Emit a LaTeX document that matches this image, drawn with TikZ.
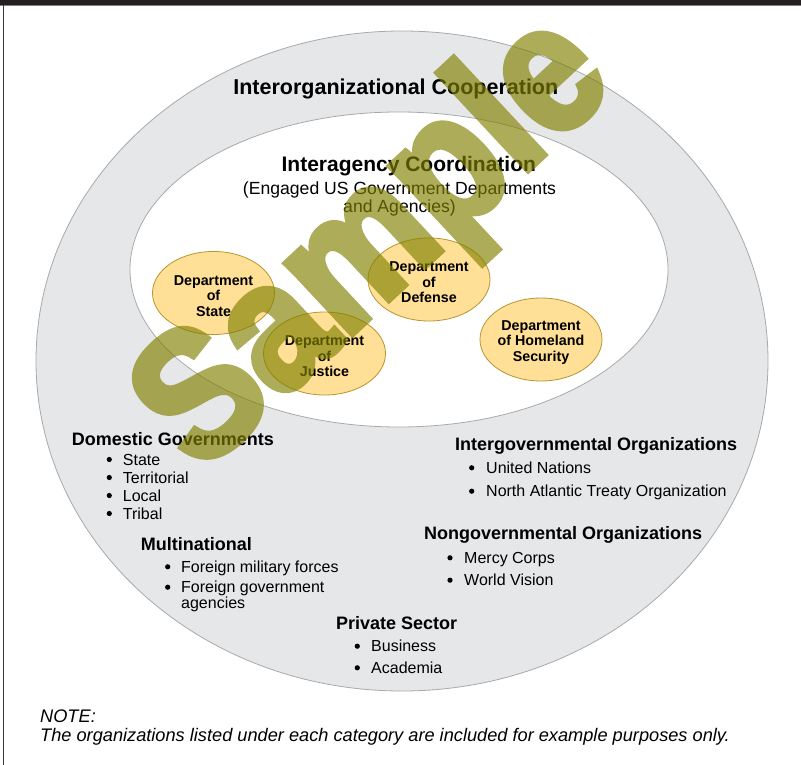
\documentclass[tikz,border=0pt]{standalone}
\usepackage{fontspec}
\setmainfont{Liberation Sans}
\newfontfamily\stampfont[FakeBold=4]{Liberation Sans Bold}
\usetikzlibrary{shapes.geometric}

\definecolor{framebar}{HTML}{231F20}
\definecolor{frameline}{HTML}{3A3A3A}
\definecolor{ringgrey}{HTML}{E6E7E8}
\definecolor{ringline}{HTML}{A7A9AC}
\definecolor{deptfill}{HTML}{FFE096}
\definecolor{deptline}{HTML}{B8952F}
\definecolor{stamp}{RGB}{128,128,0}

\tikzset{
  ring/.style={ellipse, draw=ringline, line width=0.8, inner sep=0},
  title/.style={font=\bfseries\fontsize{21.5}{24}\selectfont, anchor=base, inner sep=0},
  subtitle/.style={font=\fontsize{17.6}{19}\selectfont, anchor=base, inner sep=0},
  dept/.style={ellipse, draw=deptline, line width=0.8, fill=deptfill,
    minimum width=122, minimum height=83, inner sep=0},
  deptlabel/.style={align=center, inner sep=0, yshift=-3pt,
    font=\bfseries\fontsize{14.3}{15.5}\selectfont},
  head/.style={font=\bfseries\fontsize{18}{20}\selectfont, anchor=base west, inner sep=0},
  item/.style={font=\fontsize{16}{18}\selectfont, anchor=base west, inner sep=0},
  dot/.style={circle, fill=black, inner sep=0, minimum size=5.2},
  note/.style={font=\itshape\fontsize{18.2}{20}\selectfont, anchor=base west, inner sep=0},
  stamptext/.style={font=\stampfont\fontsize{182}{182}\selectfont, text=stamp,
    rotate=43, xscale=0.88, inner sep=0},
}

\begin{document}
\begin{tikzpicture}[x=1pt,y=-1pt]
\useasboundingbox (0,0) rectangle (801,765);
\fill[white] (0,0) rectangle (801,765);

% page frame
\fill[framebar] (0,0) rectangle (801,5);
\draw[gray, line width=0.8] (0,5.6) -- (801,5.6);
\draw[frameline, line width=1.3] (3.5,5) -- (3.5,765);

% nested rings
\node[ring, fill=ringgrey, minimum width=732, minimum height=660] (outer) at (402,361) {};
\node[ring, fill=white, minimum width=538, minimum height=315] (inner) at (399,269.5) {};

\node[title] (coop) at (395.8,95) {Interorganizational Cooperation};
\node[title, font=\bfseries\fontsize{21}{24}\selectfont] (coord) at (408.8,171.7) {Interagency Coordination};
\node[subtitle] (engaged1) at (399.5,195) {(Engaged US Government Departments};
\node[subtitle] (engaged2) at (399.5,212.7) {and Agencies)};

% departments
\node[dept] (state) at (213.5,293) {};
\node[dept] (justice) at (324.5,353.5) {};
\node[dept] (defense) at (429,279.5) {};
\node[dept] (homeland) at (541,339.5) {};
\node[deptlabel] (statetext) at (state.center) {Department\\of\\State};
\node[deptlabel] (justicetext) at (justice.center) {Department\\of\\Justice};
\node[deptlabel] (defensetext) at (defense.center) {Department\\of\\Defense};
\node[deptlabel] (homelandtext) at (homeland.center) {Department\\of Homeland\\Security};

% domestic governments
\node[head] (domestic) at (71.7,445) {Domestic Governments};
\node[dot] (d1) at (109.3,459.5) {};   \node[item] (state1) at (122.7,465) {State};
\node[dot] (d2) at (109.3,477.5) {};   \node[item] (terr) at (122.7,483) {Territorial};
\node[dot] (d3) at (109.3,495.5) {};   \node[item] (local) at (122.7,501) {Local};
\node[dot] (d4) at (109.3,513.5) {};   \node[item] (tribal) at (122.7,519) {Tribal};

% multinational
\node[head] (multi) at (140.7,550) {Multinational};
\node[dot] (m1) at (167.7,566.8) {};  \node[item] (forces) at (181,572.3) {Foreign military forces};
\node[dot] (m2) at (167.7,587.2) {};  \node[item] (fgov) at (181,592.7) {Foreign government};
\node[item] (fgov2) at (181,608.7) {agencies};

% intergovernmental
\node[head] (igo) at (455,450.7) {Intergovernmental Organizations};
\node[dot] (i1) at (471.7,467.8) {};  \node[item] (un) at (486,473.3) {United Nations};
\node[dot] (i2) at (471.7,491.2) {};  \node[item] (nato) at (486,496.7) {North Atlantic Treaty Organization};

% nongovernmental
\node[head] (ngo) at (424,539.3) {Nongovernmental Organizations};
\node[dot] (n1) at (450,557.8) {};  \node[item] (mercy) at (464,563.3) {Mercy Corps};
\node[dot] (n2) at (450,580.2) {};  \node[item] (vision) at (464,585.7) {World Vision};

% private sector
\node[head] (private) at (336,629.3) {Private Sector};
\node[dot] (p1) at (357.3,646.2) {};  \node[item] (business) at (371,651.7) {Business};
\node[dot] (p2) at (357.3,667.8) {};  \node[item] (academia) at (371,673.3) {Academia};

% footnote
\node[note] (notehead) at (40,722) {NOTE:};
\node[note] (notetext) at (40,741) {The organizations listed under each category are included for example purposes only.};

% watermark, emboldened and composited as one translucent group
\begin{scope}[transparency group, opacity=0.65]
  \node[stamptext] (stampmark) at (377,246) {Sample};
\end{scope}
\end{tikzpicture}
\end{document}
